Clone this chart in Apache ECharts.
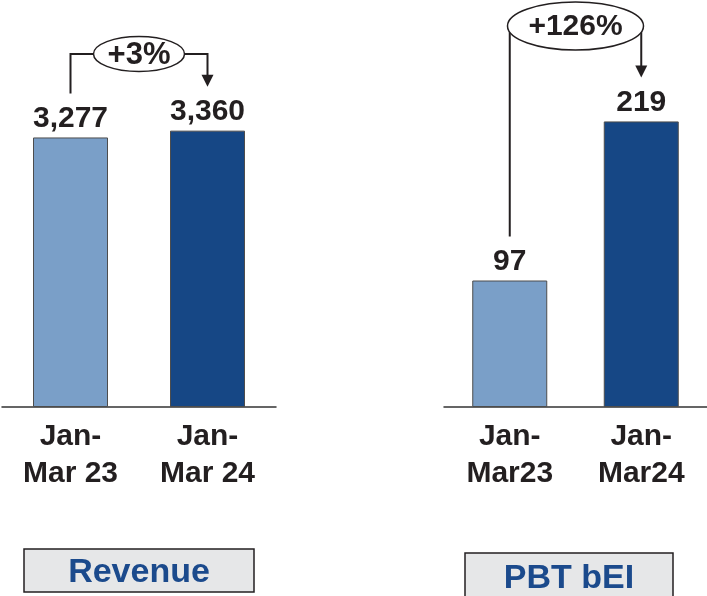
<!DOCTYPE html>
<html>
<head>
<meta charset="utf-8">
<style>
  html, body { margin: 0; padding: 0; background: #fff; }
  #main { width: 707px; height: 596px; }
</style>
<script src="https://cdn.jsdelivr.net/npm/echarts@6/dist/echarts.min.js"></script>
</head>
<body>
<div id="main"></div>
<script>
// data
const revenueCategories = ['Jan-\nMar 23', 'Jan-\nMar 24']
const revenueValues = [3277, 3360]
const pbtCategories = ['Jan-\nMar23', 'Jan-\nMar24']
const pbtValues = [97, 219]
const changeLabels = ['+3%', '+126%']
const panelTitles = ['Revenue', 'PBT bEI']
const axisMax = [4000, 250]

const FONT = "'Liberation Sans', Arial, sans-serif"
const INK = '#231f20'
const barColors = ['#7a9fc8', '#164785']

const chart = echarts.init(document.getElementById('main'))

function xAxisFor(gridIndex, data) {
  return {
    type: 'category',
    gridIndex: gridIndex,
    data: data,
    axisLine: { lineStyle: { color: '#333', width: 1.5 } },
    axisTick: { show: false },
    axisLabel: {
      margin: 11,
      color: INK,
      fontFamily: FONT,
      fontWeight: 'bold',
      fontSize: 30,
      lineHeight: 37
    }
  }
}

function yAxisFor(gridIndex, max) {
  return {
    type: 'value',
    gridIndex: gridIndex,
    min: 0,
    max: max,
    show: false,
    splitLine: { show: false }
  }
}

function barSeries(idx, values) {
  return {
    type: 'bar',
    xAxisIndex: idx,
    yAxisIndex: idx,
    barWidth: 75,
    data: values.map((v, i) => ({
      value: v,
      itemStyle: { color: barColors[i] }
    })),
    itemStyle: { borderColor: '#4d4d4d', borderWidth: 1 },
    label: {
      show: true,
      position: 'top',
      distance: 4,
      color: INK,
      fontFamily: FONT,
      fontWeight: 'bold',
      fontSize: 30,
      formatter: (p) => p.value.toLocaleString('en-US')
    },
    animation: false
  }
}

const option = {
  animation: false,
  grid: [
    { left: 2, width: 274, top: 78, bottom: 189 },
    { left: 444, right: 0, top: 81, bottom: 189 }
  ],
  xAxis: [xAxisFor(0, revenueCategories), xAxisFor(1, pbtCategories)],
  yAxis: [yAxisFor(0, axisMax[0]), yAxisFor(1, axisMax[1])],
  series: [barSeries(0, revenueValues), barSeries(1, pbtValues)]
}
chart.setOption(option)

// change annotations, placed from the bars' pixel positions
function bracket(idx, values, cy, rx, ry, size) {
  const a = chart.convertToPixel({ seriesIndex: idx }, [0, values[0]])
  const b = chart.convertToPixel({ seriesIndex: idx }, [1, values[1]])
  const startY = a[1] - 44
  const tipY = b[1] - 44
  const cx = (a[0] + b[0]) / 2
  const lineStyle = { stroke: INK, lineWidth: 2, fill: null }
  return [
    {
      type: 'polyline',
      z: 10,
      shape: { points: [[a[0], startY], [a[0], cy], [b[0], cy], [b[0], tipY - 11]] },
      style: lineStyle
    },
    {
      type: 'polygon',
      z: 10,
      shape: { points: [[b[0] - 6, tipY - 12], [b[0] + 6, tipY - 12], [b[0], tipY]] },
      style: { fill: INK }
    },
    {
      type: 'ellipse',
      z: 11,
      shape: { cx: cx, cy: cy, rx: rx, ry: ry },
      style: { fill: '#fff', stroke: INK, lineWidth: 1.5 }
    },
    {
      type: 'text',
      z: 12,
      x: cx,
      y: cy + 1,
      style: {
        text: changeLabels[idx],
        align: 'center',
        verticalAlign: 'middle',
        fill: INK,
        font: 'bold ' + size + 'px ' + FONT
      }
    }
  ]
}

function titleBox(idx, x, y, w, h) {
  return [
    {
      type: 'rect',
      z: 10,
      shape: { x: x, y: y, width: w, height: h },
      style: { fill: '#e6e7e8', stroke: INK, lineWidth: 1.5 }
    },
    {
      type: 'text',
      z: 11,
      x: x + w / 2,
      y: y + h / 2 + 2,
      style: {
        text: panelTitles[idx],
        align: 'center',
        verticalAlign: 'middle',
        fill: '#1b4a8c',
        font: 'bold 34px ' + FONT
      }
    }
  ]
}

chart.setOption({
  graphic: [].concat(
    bracket(0, revenueValues, 54, 45.5, 17.5, 31),
    bracket(1, pbtValues, 26, 68, 24, 30),
    titleBox(0, 24, 549, 230, 43),
    titleBox(1, 465, 553, 208, 48)
  )
})
</script>
</body>
</html>
